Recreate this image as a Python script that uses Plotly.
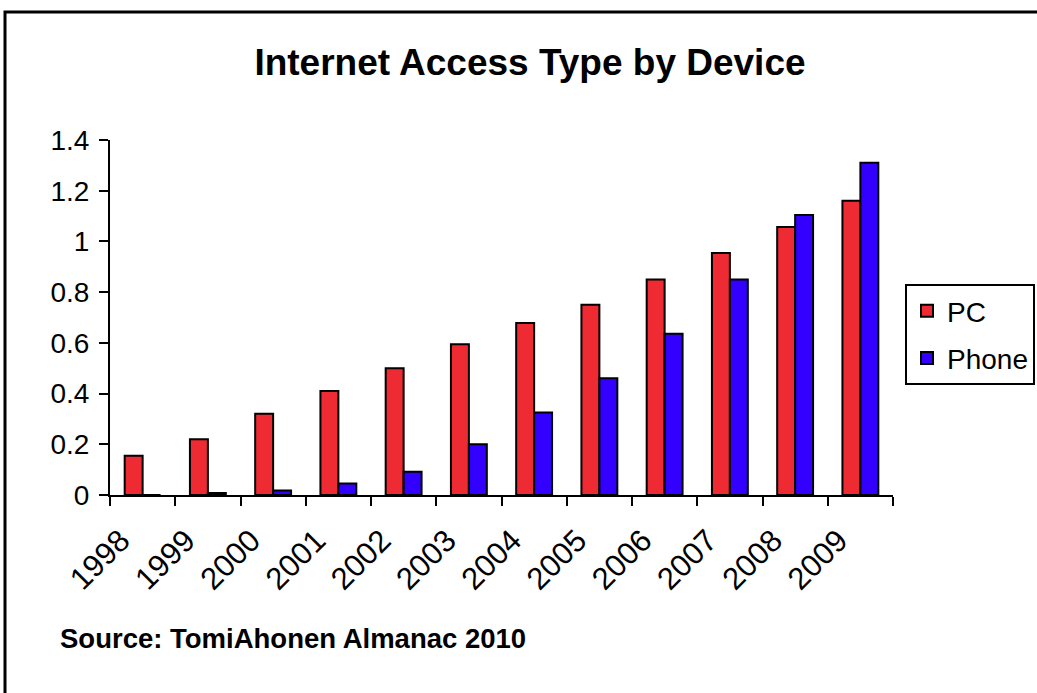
import plotly.graph_objects as go

years = ["1998", "1999", "2000", "2001", "2002", "2003", "2004", "2005", "2006", "2007", "2008", "2009"]
pc = [0.155, 0.22, 0.32, 0.41, 0.50, 0.595, 0.678, 0.75, 0.85, 0.954, 1.057, 1.16]
phone = [0.0, 0.008, 0.018, 0.045, 0.092, 0.20, 0.325, 0.46, 0.636, 0.85, 1.104, 1.31]

W, H = 1037, 693
L, R, T, B = 110, 893, 140, 495

fig = go.Figure()
fig.add_trace(go.Bar(name="PC", x=years, y=pc, marker=dict(color="#EE2A32", line=dict(color="black", width=2)), legendgroup="a"))
fig.add_trace(go.Bar(name="Phone", x=years, y=phone, marker=dict(color="#3300FF", line=dict(color="black", width=2)), legendgroup="b"))

pw, ph = R - L, B - T
def px(x):
    return (x - L) / pw
def py(y):
    return (B - y) / ph

fig.update_layout(
    width=W, height=H,
    margin=dict(l=L, r=W - R, t=T, b=H - B, pad=0, autoexpand=False),
    paper_bgcolor="white", plot_bgcolor="white",
    barmode="group", bargap=0.45, bargroupgap=0,
    font=dict(family="Liberation Sans, Arial, sans-serif", color="black", size=28),
    title=dict(text="<b>Internet Access Type by Device</b>", xref="container", yref="container",
               x=530 / W, xanchor="center", y=1 - 62 / H, yanchor="middle", font=dict(size=37)),
    showlegend=True,
    legend=dict(x=px(905), y=py(284), xanchor="left", yanchor="top",
                bordercolor="black", borderwidth=2, font=dict(size=28),
                tracegroupgap=8, bgcolor="white", itemwidth=30),
    xaxis=dict(type="category", showline=True, linecolor="black", linewidth=2,
               ticks="outside", tickson="boundaries", ticklen=9, tickwidth=2, tickcolor="black",
               tickangle=-45, showgrid=False, tickfont=dict(size=31),
               ticklabelstandoff=13, ticklabelshift=-22, automargin=False),
    yaxis=dict(range=[0, 1.4], dtick=0.2, showline=True, linecolor="black", linewidth=2,
               ticks="outside", ticklen=9, tickwidth=2, tickcolor="black",
               showgrid=False, zeroline=False, tickfont=dict(size=28), ticklabelstandoff=4,
               automargin=False),
    shapes=[dict(type="rect", xref="paper", yref="paper",
                 x0=px(5), x1=px(1045), y0=py(700), y1=py(12),
                 line=dict(color="black", width=3), fillcolor="rgba(0,0,0,0)", layer="above")],
    annotations=[dict(text="<b>Source: TomiAhonen Almanac 2010</b>", xref="paper", yref="paper",
                      x=px(58), y=py(638), xanchor="left", yanchor="middle", showarrow=False,
                      font=dict(size=27.5))],
)

fig.write_html("out.html")
